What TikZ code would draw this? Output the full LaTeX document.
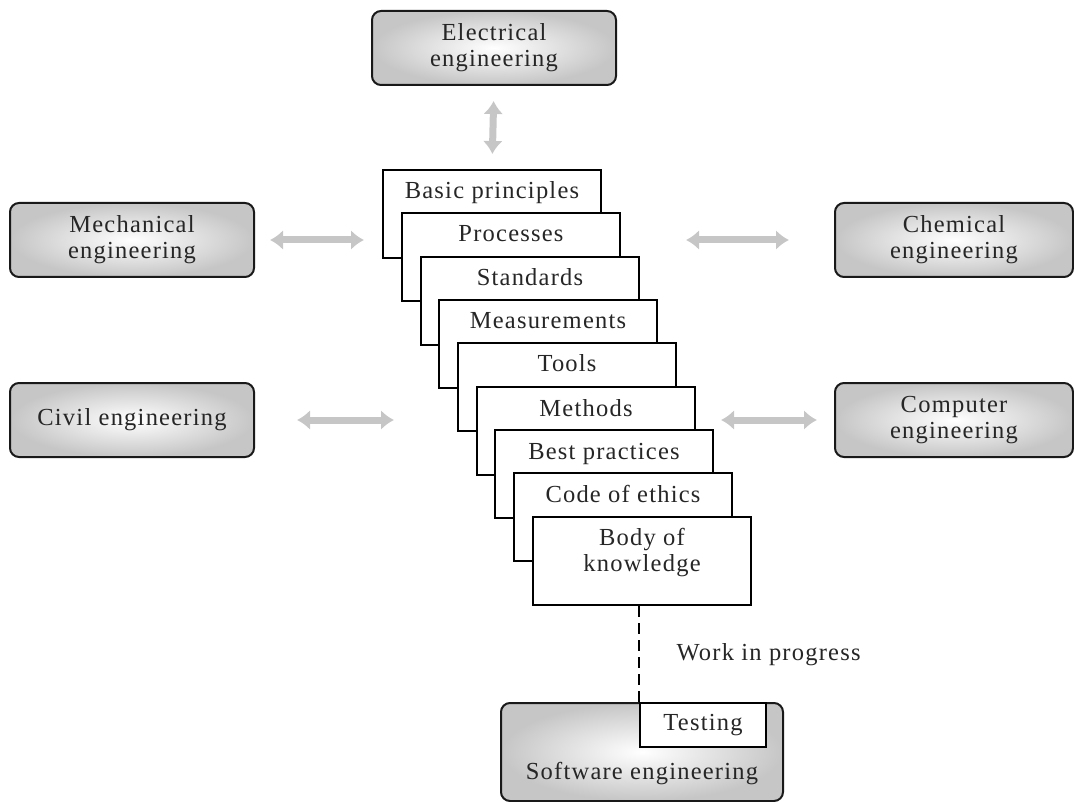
\documentclass[tikz,border=0pt]{standalone}
\usepackage{fontspec}
\setmainfont{Liberation Serif}[LetterSpace=5]
\usetikzlibrary{arrows.meta}
\newcommand\dfont{\fontsize{24.5}{26}\selectfont}
\tikzset{
  eng/.style={draw=black!90, line width=2pt, rounded corners=9pt,
    inner color=white, outer color=gray!45, align=center, font=\dfont,
    text=black!85, minimum width=244pt, minimum height=74pt, inner sep=0pt},
  card/.style={draw=black, fill=white, line width=2pt, minimum width=218pt,
    minimum height=88pt, inner sep=0pt},
  cardtext/.style={anchor=base, inner sep=0pt, yshift=-30pt, font=\dfont, text=black!85, align=center},
  cardtextml/.style={anchor=north, inner sep=0pt, yshift=-12pt, font=\dfont, text=black!85, align=center},
  garrow/.style={draw=gray!45, line width=7pt,
    {Latex[length=13pt,width=20pt]}-{Latex[length=13pt,width=20pt]}},
}
\begin{document}
\begin{tikzpicture}[x=1pt,y=-1pt]
\useasboundingbox (0,0) rectangle (1074,802);
% engineering boxes
\node[eng] (elec) at (494,48) {Electrical\\engineering};
\node[eng] (mech) at (132,240) {Mechanical\\engineering};
\node[eng] (civil) at (132,420) {Civil engineering};
\node[eng, minimum width=238pt] (chem) at (954,240) {Chemical\\engineering};
\node[eng, minimum width=238pt] (comp) at (954,420) {Computer\\engineering};
% stacked cards
\foreach \i/\x/\y/\t in {1/492/214/Basic principles,2/511/257/Processes,3/530/301/Standards,
  4/548/344/Measurements,5/567/387/Tools,6/586/431/Methods,7/604/474/Best practices,
  8/623/517/Code of ethics}{
  \node[card, label={[cardtext]north:\t}] (c\i) at (\x,\y) {};
}
\node[card, label={[cardtextml]north:Body of\\knowledge}] (c9) at (642,561) {};
% software engineering
\node[eng, minimum width=282pt, minimum height=98pt,
  label={[cardtext, yshift=-47pt]north:Software engineering}] (sw) at (642,752) {};
\node[draw=black, fill=white, line width=2pt, minimum width=126pt, minimum height=44pt,
  inner sep=0pt, font=\dfont, text=black!85] (test) at (703,725) {Testing};
\draw[line width=2pt, dash pattern=on 11pt off 6pt] (test.north west |- c9.south) -- (test.north west);
\node[anchor=west, font=\dfont, text=black!85] (wip) at (673,655) {Work in progress};
% arrows
\draw[garrow, shorten <=15pt, shorten >=15pt] (elec.south) -- (c1.north);
\draw[garrow, shorten <=15pt, shorten >=18pt] (mech.east) -- (mech.east -| c1.west);
\draw[garrow, shorten <=42pt, shorten >=63pt] (civil.east) -- (civil.east -| c5.west);
\draw[garrow, shorten <=65pt, shorten >=45pt] (c2.east |- chem.west) -- (chem.west);
\draw[garrow, shorten <=25pt, shorten >=17pt] (c6.east |- comp.west) -- (comp.west);
\end{tikzpicture}
\end{document}
